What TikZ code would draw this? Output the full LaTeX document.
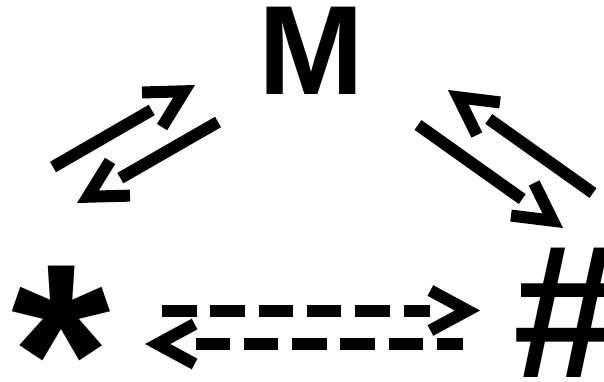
\documentclass[tikz,border=0pt]{standalone}
\usepackage{fontspec}
\setmainfont{Liberation Sans}
\begin{document}
\begin{tikzpicture}[x=1pt,y=-1pt,line width=12pt,
  every node/.style={inner sep=0pt}]
\tikzset{chev/.pic={\draw[solid,shorten >=0pt,line width=12pt,line join=miter] (-49.6,20)--(-12.6,0)--(-49.6,-20);},
  tipend/.style={pos=1,sloped,allow upside down}}
\tikzstyle{eq}=[shorten >=50pt]
\tikzstyle{dline}=[dash pattern=on 34.5pt off 13.8pt]
\useasboundingbox (0,0) rectangle (604,382);
% species
\node[anchor=base,font=\bfseries\fontsize{127}{127}\selectfont] (M) at (311,95) {M};
\node[anchor=base west,font=\bfseries\fontsize{255}{255}\selectfont] (star) at (6,441) {*};
\node[anchor=base west,font=\bfseries\fontsize{190}{190}\selectfont] (hash) at (507,377) {\#};
% arrow ends
\coordinate (sM1) at (53,167);  \coordinate (Ms1) at (195,85);
\coordinate (Ms2) at (218,122); \coordinate (sM2) at (77,203);
\coordinate (Mh1) at (418,125); \coordinate (hM1) at (563,228);
\coordinate (hM2) at (593,193); \coordinate (Mh2) at (448,90);
\coordinate (sh1) at (162,310.5); \coordinate (hs1) at (480,310.5);
\coordinate (hs2) at (463,344);   \coordinate (sh2) at (145,344);
% equilibria
\draw[eq] (sM1)--(Ms1) pic[tipend]{chev}; \draw[eq] (Ms2)--(sM2) pic[tipend]{chev};
\draw[eq] (Mh1)--(hM1) pic[tipend]{chev}; \draw[eq] (hM2)--(Mh2) pic[tipend]{chev};
\draw[eq,dline] (sh1)--(hs1) pic[tipend]{chev};
\draw[eq,dline,dash phase=8.5pt] (hs2)--(sh2) pic[tipend]{chev};
\end{tikzpicture}
\end{document}
